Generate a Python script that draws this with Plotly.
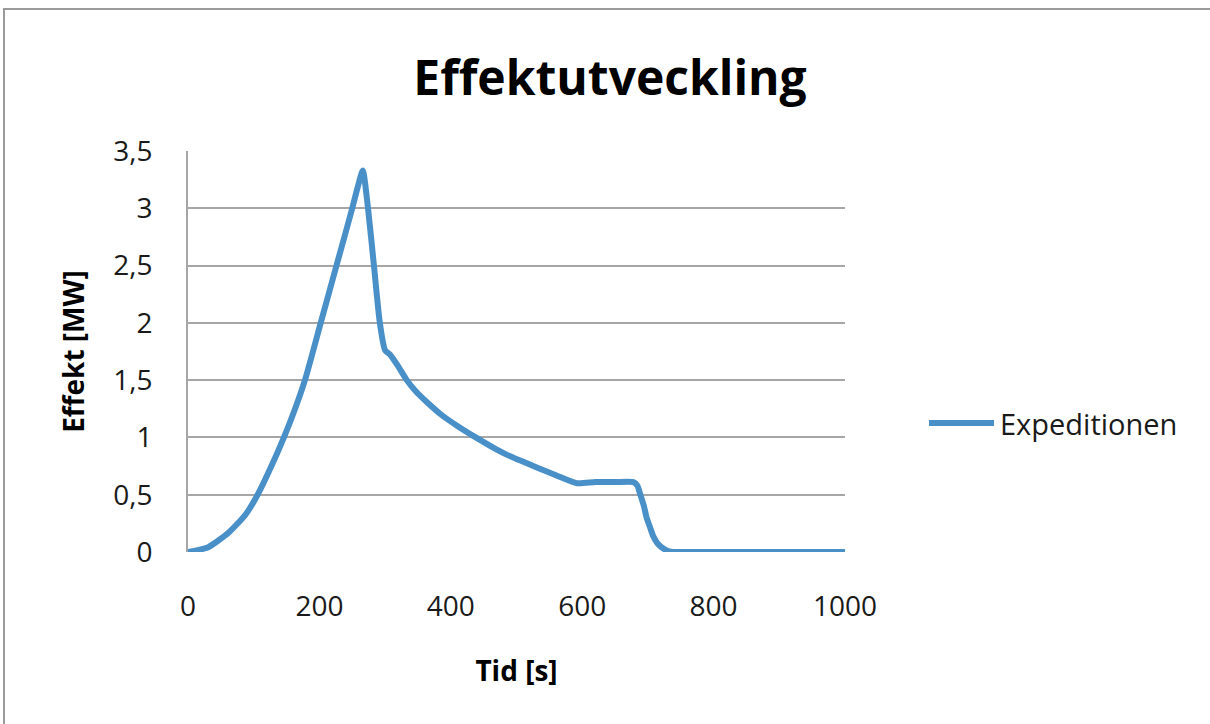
import plotly.graph_objects as go

# Power development over time (Expeditionen)
time_s = [0, 30, 62, 88, 106, 127, 146, 163, 178, 202, 226, 250, 259, 266,
          274, 283, 292, 300, 308, 320, 333, 347, 365, 385, 410, 438, 468, 485,
          505, 530, 560, 592, 620, 650, 678, 684, 688, 694, 698, 703, 708, 714,
          720, 728, 738, 760, 800, 900, 1000]
power_mw = [0, 0.04, 0.17, 0.33, 0.5, 0.75, 1.0, 1.25, 1.5, 2.0, 2.5, 3.0, 3.2, 3.33,
            3.0, 2.5, 2.0, 1.76, 1.72, 1.62, 1.5, 1.4, 1.3, 1.2, 1.1, 1.0, 0.9, 0.85,
            0.8, 0.74, 0.67, 0.6, 0.61, 0.61, 0.61, 0.58, 0.51, 0.4, 0.3, 0.22, 0.14, 0.08,
            0.045, 0.015, 0, 0, 0, 0, 0]

series_name = "Expeditionen"
y_tick_vals = [0, 0.5, 1, 1.5, 2, 2.5, 3, 3.5]
y_tick_text = ["0", "0,5", "1", "1,5", "2", "2,5", "3", "3,5"]
x_tick_vals = [0, 200, 400, 600, 800, 1000]
x_tick_text = ["0", "200", "400", "600", "800", "1000"]

LINE_COLOR = "#4a90c8"
GRID_COLOR = "#a6a6a6"
TEXT_COLOR = "#1a1a1a"
FONT = "Open Sans"

fig = go.Figure()
fig.add_trace(go.Scatter(
    x=time_s, y=power_mw, mode="lines", name=series_name,
    line=dict(color=LINE_COLOR, width=6, shape="spline", smoothing=0.6),
    showlegend=False,
))

W, H = 1210, 724
L, R, T, B = 188, 365, 151, 172
pw, ph = W - L - R, H - T - B


def px_x(px):
    return (px - L) / pw


def px_y(py):
    return (H - B - py) / ph


# outer chart frame
fig.add_shape(type="rect", xref="paper", yref="paper",
              x0=px_x(4), x1=px_x(1230), y0=px_y(9), y1=px_y(740),
              line=dict(color="#9a9a9a", width=2), fillcolor="rgba(0,0,0,0)", layer="below")

# legend key
fig.add_shape(type="line", xref="paper", yref="paper",
              x0=px_x(929), x1=px_x(994), y0=px_y(423), y1=px_y(423),
              line=dict(color=LINE_COLOR, width=6))
fig.add_annotation(xref="paper", yref="paper", x=px_x(998), y=px_y(423),
                   text=series_name, showarrow=False, xanchor="left", yanchor="middle",
                   font=dict(family=FONT, size=29, color=TEXT_COLOR))

fig.update_layout(
    width=W, height=H,
    margin=dict(l=L, r=R, t=T, b=B),
    paper_bgcolor="white", plot_bgcolor="white",
    title=dict(text="<b>Effektutveckling</b>", x=610 / W, xanchor="center",
               y=1 - 78 / H, yanchor="middle",
               font=dict(family=FONT, size=48, color="black")),
    xaxis=dict(range=[0, 1000], tickvals=x_tick_vals, ticktext=x_tick_text,
               showgrid=False, zeroline=False, showline=False, ticks="",
               ticklabelstandoff=35,
               tickfont=dict(family=FONT, size=28, color=TEXT_COLOR),
               title=dict(text="<b>Tid [s]</b>", standoff=38,
                          font=dict(family=FONT, size=28, color="black"))),
    yaxis=dict(range=[0, 3.5], tickvals=y_tick_vals, ticktext=y_tick_text,
               showgrid=True, gridcolor=GRID_COLOR, gridwidth=2,
               zeroline=False, showline=True, linecolor=GRID_COLOR, linewidth=2, ticks="",
               ticklabelstandoff=28,
               tickfont=dict(family=FONT, size=28, color=TEXT_COLOR),
               title=dict(text="<b>Effekt [MW]</b>", standoff=20,
                          font=dict(family=FONT, size=28, color="black"))),
)

fig.write_html("out.html")
